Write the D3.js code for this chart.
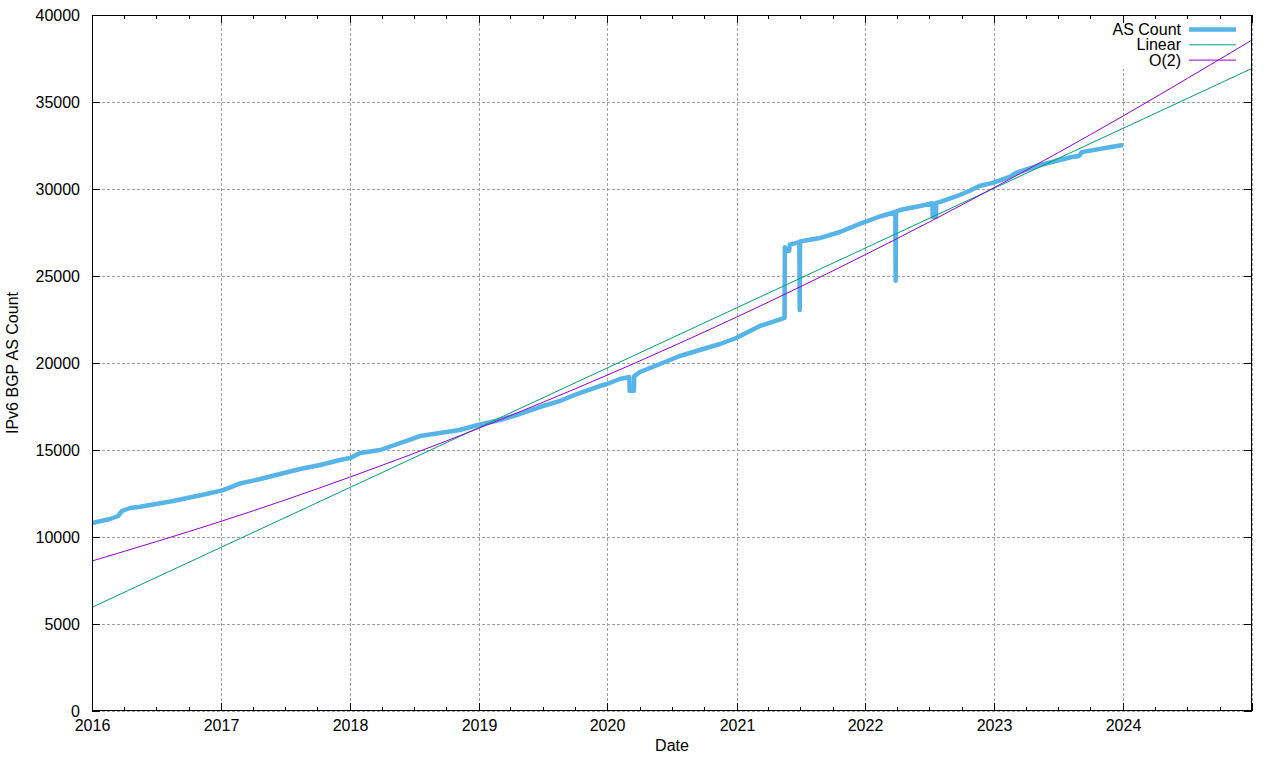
<!DOCTYPE html>
<html><head><meta charset="utf-8">
<script src="https://cdn.jsdelivr.net/npm/d3@7"></script>
<style>
body{margin:0;background:#fff}
svg text{font-family:"Liberation Sans",Arial,sans-serif;font-size:16px;fill:#000}
</style>
</head><body>
<svg id="chart" width="1280" height="760"></svg>
<script>
// ---- data ----
const asDates = [
"2016-01-01","2016-02-21","2016-03-15","2016-03-26","2016-04-18","2016-05-16","2016-06-14","2016-08-18","2016-11-20",
"2017-01-04","2017-01-27","2017-02-24","2017-04-22","2017-06-17","2017-08-13","2017-10-09","2017-12-04",
"2018-01-02","2018-01-30","2018-03-28","2018-05-23","2018-07-19","2018-09-13","2018-11-08","2018-12-30",
"2019-03-02","2019-04-28","2019-06-23","2019-08-19","2019-10-14","2019-12-10","2019-12-31",
"2020-02-05","2020-03-03","2020-03-04","2020-03-16","2020-03-17","2020-04-02","2020-05-29","2020-07-24","2020-09-19","2020-11-15","2020-12-31",
"2021-03-08","2021-05-17","2021-05-18","2021-05-20","2021-05-30","2021-06-01","2021-06-28","2021-06-29","2021-06-30","2021-08-25","2021-10-21","2021-12-16",
"2022-02-11","2022-03-27","2022-03-28","2022-03-29","2022-04-09","2022-06-05","2022-07-10","2022-07-11","2022-07-20","2022-07-21","2022-07-30","2022-09-25","2022-10-24","2022-11-20","2022-12-28",
"2023-02-14","2023-03-04","2023-05-12","2023-08-09","2023-08-30","2023-09-07","2023-11-24","2024-01-01"
];
const asCounts = [
10804,11034,11207,11494,11666,11740,11839,12070,12470,
12680,12850,13080,13333,13620,13908,14138,14425,
14540,14827,15000,15402,15804,15977,16149,16436,
16724,17069,17471,17816,18275,18678,18793,
19080,19195,18400,18400,19250,19482,19942,20402,20747,21092,21437,
22126,22590,26650,26450,26450,26800,26950,23045,26980,27180,27530,28000,
28420,28680,24730,28700,28793,29020,29180,28400,28400,29200,29250,29655,29900,30170,30350,
30700,30920,31380,31840,31900,32120,32400,32530
];
const linearDates = ["2016-01-01","2025-01-01"];
const linearValues = [5960, 36930];
const quadDates = ["2016-01-01","2017-01-01","2018-01-01","2019-01-01","2020-01-01","2021-01-01","2022-01-01","2023-01-01","2024-01-01","2025-01-01"];
const quadValues = [8620, 10900, 13442, 16245, 19310, 22638, 26225, 30076, 34189, 38563];
const yTickValues = [0,5000,10000,15000,20000,25000,30000,35000,40000];
const xTickYears = [2016,2017,2018,2019,2020,2021,2022,2023,2024,2025];
const seriesNames = ["AS Count","Linear","O(2)"];
const seriesColors = ["#56b4e9","#009e73","#9400d3"];

// ---- layout ----
const L=92, R=1252, T=15, B=711;
const svg=d3.select("#chart");
const parse=d3.timeParse("%Y-%m-%d");
const x=d3.scaleTime().domain([new Date(2016,0,1),new Date(2025,0,1)]).range([L,R]);
const y=d3.scaleLinear().domain([0,40000]).range([B,T]);

// grid
const grid=svg.append("g").attr("stroke","#a0a0a0").attr("stroke-width",1).attr("stroke-dasharray","3,2");
yTickValues.forEach(v=>{
  grid.append("line").attr("x1",L).attr("x2",R).attr("y1",Math.round(y(v))+0.5).attr("y2",Math.round(y(v))+0.5);
});
xTickYears.forEach(yr=>{
  const xx=Math.round(x(new Date(yr,0,1)))+0.5;
  grid.append("line").attr("x1",xx).attr("x2",xx).attr("y1",B).attr("y2",T);
});
// key background (hides grid behind key)
svg.append("rect").attr("x",1096).attr("y",T+1).attr("width",R-1097).attr("height",53).attr("fill","#fff");

// data
svg.append("clipPath").attr("id","clip").append("rect").attr("x",L).attr("y",T).attr("width",R-L).attr("height",B-T);
const plot=svg.append("g").attr("clip-path","url(#clip)");
const lineGen=d3.line().x(d=>x(d[0])).y(d=>y(d[1]));
const curveGen=d3.line().x(d=>x(d[0])).y(d=>y(d[1])).curve(d3.curveNatural);

const asData=asDates.map((d,i)=>[parse(d),asCounts[i]]);
const linData=linearDates.map((d,i)=>[parse(d),linearValues[i]]);
const quadData=quadDates.map((d,i)=>[parse(d),quadValues[i]]);

plot.append("path").datum(asData).attr("d",lineGen).attr("fill","none")
  .attr("stroke",seriesColors[0]).attr("stroke-width",4.5).attr("stroke-linejoin","round");
plot.append("path").datum(linData).attr("d",lineGen).attr("fill","none")
  .attr("stroke",seriesColors[1]).attr("stroke-width",1);
plot.append("path").datum(quadData).attr("d",curveGen).attr("fill","none")
  .attr("stroke",seriesColors[2]).attr("stroke-width",1);

// axes box
svg.append("rect").attr("x",L+0.5).attr("y",T+0.5).attr("width",R-L-1).attr("height",B-T-1)
  .attr("fill","none").attr("stroke","#000").attr("stroke-width",1);

// ticks
const ticks=svg.append("g").attr("stroke","#000").attr("stroke-width",1);
yTickValues.forEach(v=>{
  const yy=Math.round(y(v))+0.5;
  ticks.append("line").attr("x1",L).attr("x2",L+8).attr("y1",yy).attr("y2",yy);
  ticks.append("line").attr("x1",R-8).attr("x2",R).attr("y1",yy).attr("y2",yy);
  svg.append("text").attr("x",80).attr("y",yy+5).attr("text-anchor","end").text(v);
});
xTickYears.forEach(yr=>{
  const xx=Math.round(x(new Date(yr,0,1)))+0.5;
  ticks.append("line").attr("x1",xx).attr("x2",xx).attr("y1",B).attr("y2",B-8);
  ticks.append("line").attr("x1",xx).attr("x2",xx).attr("y1",T).attr("y2",T+8);
  if(yr<2025){
    svg.append("text").attr("x",xx).attr("y",731).attr("text-anchor","middle").text(yr);
    [3,6,9].forEach(m=>{
      const mx=Math.round(x(new Date(yr,m,1)))+0.5;
      ticks.append("line").attr("x1",mx).attr("x2",mx).attr("y1",B).attr("y2",B-4);
      ticks.append("line").attr("x1",mx).attr("x2",mx).attr("y1",T).attr("y2",T+4);
    });
  }
});

// axis titles
svg.append("text").attr("x",(L+R)/2).attr("y",751).attr("text-anchor","middle").text("Date");
svg.append("text").attr("transform","translate(18,363) rotate(-90)").attr("text-anchor","middle").text("IPv6 BGP AS Count");

// legend
const widths=[4.5,1,1];
seriesNames.forEach((n,i)=>{
  const cy=29.5+i*15.3;
  svg.append("text").attr("x",1181).attr("y",cy+5.5).attr("text-anchor","end").text(n);
  svg.append("line").attr("x1",1189).attr("x2",1236).attr("y1",cy).attr("y2",cy)
    .attr("stroke",seriesColors[i]).attr("stroke-width",widths[i]);
});
</script>
</body></html>
